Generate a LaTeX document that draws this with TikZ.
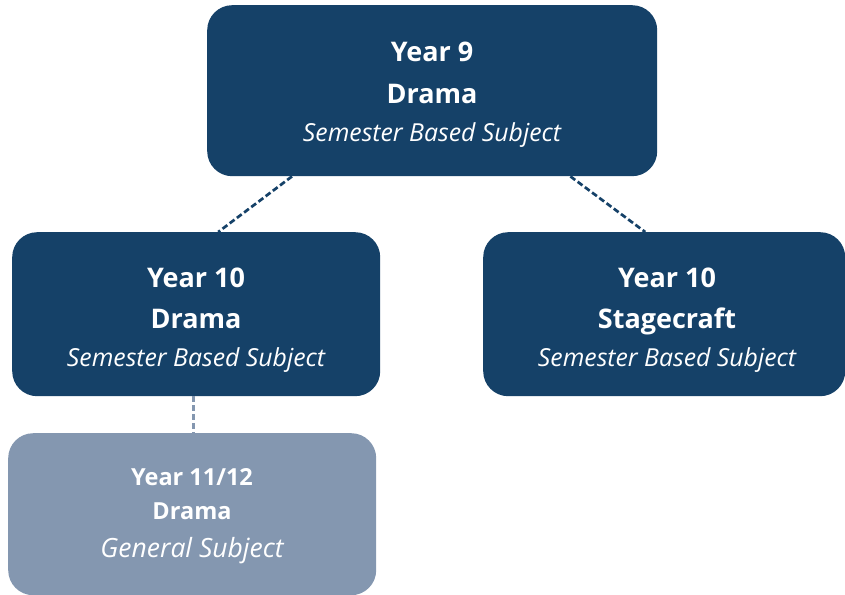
\documentclass[tikz,border=0pt]{standalone}
\usepackage{fontspec}
\setmainfont{Open Sans}
\usetikzlibrary{calc}
\definecolor{darkbox}{RGB}{21,65,104}
\definecolor{lightbox}{RGB}{132,151,176}
\tikzset{
  box/.style={rounded corners=25pt, inner sep=0pt, text=white, align=center, anchor=north west},
  darkb/.style={box, fill=darkbox},
  lightb/.style={box, fill=lightbox},
  link/.style={line width=2.7pt, dash pattern=on 6pt off 3pt},
  bigb/.style={text=white, font=\fontsize{27}{32}\selectfont\bfseries, anchor=base},
  bigi/.style={text=white, font=\fontsize{24.8}{28}\selectfont\itshape, anchor=base},
  smb/.style={text=white, font=\fontsize{23.5}{28}\selectfont\bfseries, anchor=base},
  smi/.style={text=white, font=\fontsize{26.5}{28}\selectfont\itshape, anchor=base},
}
\begin{document}
\begin{tikzpicture}[x=1pt,y=-1pt]
\useasboundingbox (0,0) rectangle (845,594);
\node[darkb, minimum width=450pt, minimum height=171pt] (top) at (207,5) {};
\node[darkb, minimum width=368pt, minimum height=164pt] (left) at (12,232) {};
\node[darkb, minimum width=362pt, minimum height=164pt] (right) at (483,232) {};
\node[lightb, minimum width=368pt, minimum height=162pt] (bot) at (8,433) {};
% texts
\node[bigb] (t1) at (432,62) {Year 9};
\node[bigb] (t2) at (432,103) {Drama};
\node[bigi] (t3) at (432,141) {Semester Based Subject};
\node[bigb] (l1) at (196,287) {Year 10};
\node[bigb] (l2) at (196,328) {Drama};
\node[bigi] (l3) at (196,366) {Semester Based Subject};
\node[bigb] (r1) at (667,287) {Year 10};
\node[bigb] (r2) at (667,328) {Stagecraft};
\node[bigi] (r3) at (667,366) {Semester Based Subject};
\node[smb] (b1) at (192,485) {Year 11/12};
\node[smb] (b2) at (192,519) {Drama};
\node[smi] (b3) at (192,557) {General Subject};
% connectors
\draw[link, darkbox] ($(top.south west)+(85,0)$) -- ($(left.north)+(22,0)$);
\draw[link, darkbox] ($(top.south east)+(-87,0)$) -- ($(right.north)+(-19,0)$);
\draw[link, lightbox] ($(left.south)+(-3,0)$) -- ($(bot.north)+(1,0)$);
\end{tikzpicture}
\end{document}
